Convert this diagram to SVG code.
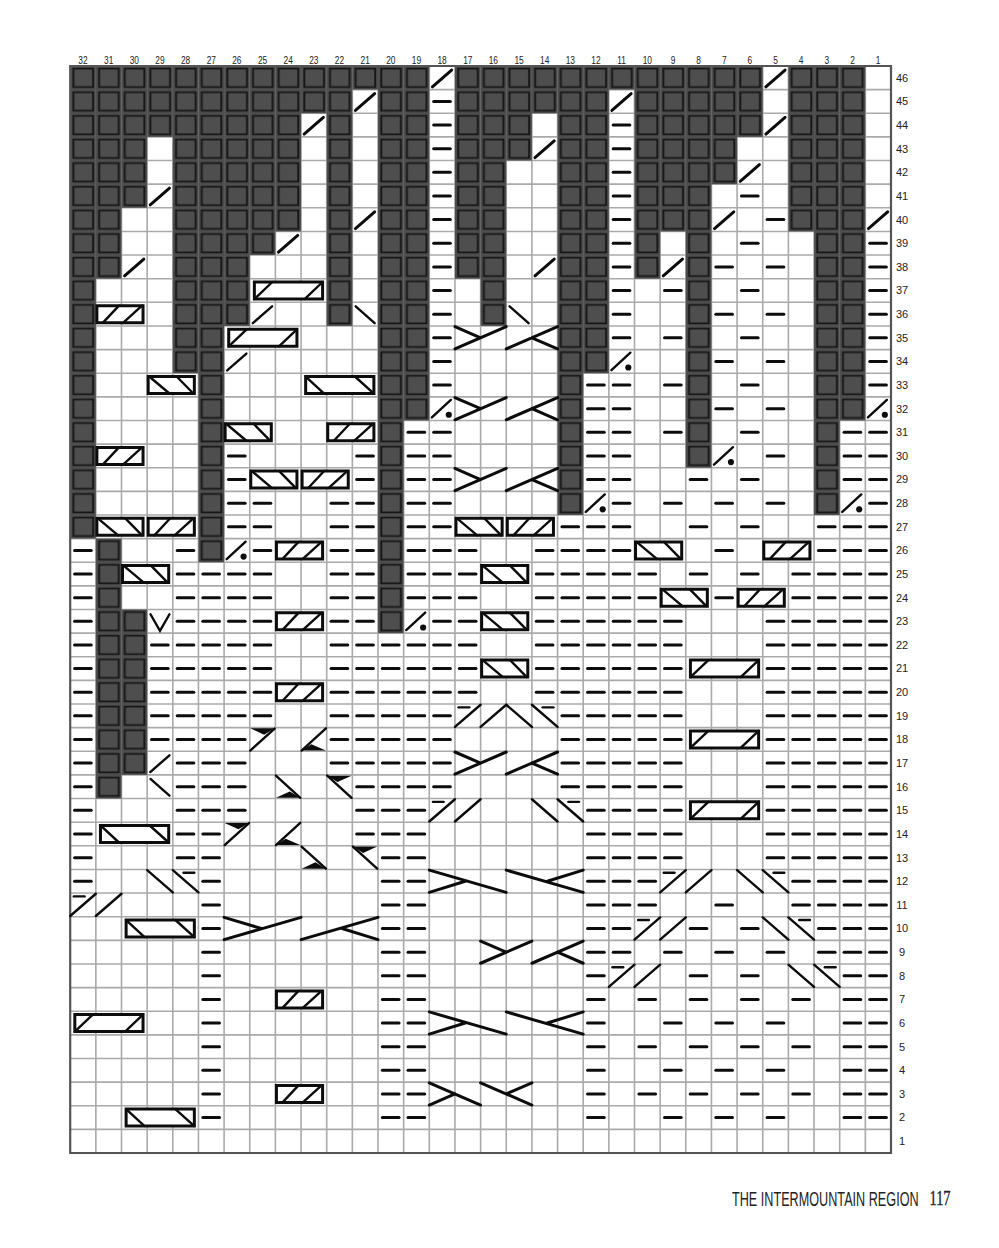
<svg xmlns="http://www.w3.org/2000/svg" width="999" height="1248" viewBox="0 0 999 1248">
<style>
text{font-family:"Liberation Sans",Arial,sans-serif;fill:#222}
.n{font-size:11px;text-anchor:middle}
defs>g path{fill:none;stroke:#0c0c0c;stroke-width:3;stroke-linecap:round;vector-effect:non-scaling-stroke}
defs>g path.t{stroke-width:2.4}
defs>g rect{fill:#fff;stroke:#0c0c0c;stroke-width:3;vector-effect:non-scaling-stroke}
defs>g polygon,defs>g ellipse{fill:#0c0c0c}
#grid path{fill:none;vector-effect:non-scaling-stroke}
</style>
<defs>
<pattern id="darkcell" patternUnits="userSpaceOnUse" width="1" height="1">
<rect width="1" height="1" fill="#4e4e4e"/>
<path fill="#161616" fill-rule="evenodd" d="M.09 .07H.93V.93H.09ZM.165 .15V.85H.855V.15Z"/>
</pattern>
<g id="d"><path d="M.17 .5H.82"/></g>
<g id="d2"><use href="#d"/><use href="#d" x="1"/></g>
<g id="d3"><use href="#d2"/><use href="#d" x="2"/></g>
<g id="d5"><use href="#d3"/><use href="#d2" x="3"/></g>
<g id="s"><path d="M.12 .88L.87 .17"/></g>
<g id="st"><path class="t" d="M.12 .88L.87 .17"/></g>
<g id="b"><path class="t" d="M.13 .17L.87 .88"/></g>
<g id="sd"><path class="t" d="M.1 .87L.84 .13"/><ellipse cx=".76" cy=".76" rx=".12" ry=".13"/></g>
<g id="sf"><path class="t" d="M0 .97L1 .03"/></g>
<g id="bf"><path class="t" d="M0 .03L1 .97"/></g>
<g id="sq"><path class="t" d="M0 .97L1 .03"/><path class="t" d="M.14 .14H.56"/></g>
<g id="bq"><path class="t" d="M0 .03L1 .97"/><path class="t" d="M.42 .14H.84"/></g>
<g id="f7"><path class="t" d="M.97 .04L.02 .97"/><polygon points=".02,.03 .97,.03 .56,.3"/></g>
<g id="fl"><path class="t" d="M.97 .03L.02 .97"/><polygon points=".02,.97 .97,.97 .4,.7"/></g>
<g id="fb"><path class="t" d="M.02 .03L.97 .97"/><polygon points=".02,.97 .97,.97 .56,.7"/></g>
<g id="ft"><path class="t" d="M.02 .03L.97 .97"/><polygon points=".02,.03 .97,.03 .42,.3"/></g>
<g id="v"><path class="t" d="M.13 .2L.5 .9L.87 .2"/></g>
<g id="zz"><rect x=".04" y=".14" width="1.8" height=".72"/><path class="t" d="M.28 .86L.9 .14M1.07 .86L1.8 .14"/></g>
<g id="nn"><rect x=".04" y=".14" width="1.8" height=".72"/><path class="t" d="M.08 .14L.87 .86M1.15 .14L1.8 .86"/></g>
<g id="zw"><rect x=".18" y=".14" width="2.66" height=".72"/><path class="t" d="M.18 .86L.88 .14M2.14 .86L2.84 .14"/></g>
<g id="nw"><rect x=".18" y=".14" width="2.66" height=".72"/><path class="t" d="M.18 .14L.9 .86M2.1 .14L2.84 .86"/></g>
<g id="cl"><path d="M0 .97L2 .03M0 .03L1 .5"/></g>
<g id="cr"><path d="M0 .97L2 .03M1 .5L2 .97"/></g>
<g id="ol"><path d="M0 .03L2 .97M0 .97L1 .5"/></g>
<g id="or"><path d="M0 .03L2 .97M1 .5L2 .03"/></g>
<g id="wl"><path d="M0 .97L3 .03M0 .03L1.45 .5"/></g>
<g id="wr"><path d="M0 .97L3 .03M1.6 .5L3 .97"/></g>
<g id="xl"><path d="M0 .03L3 .97M0 .97L1.4 .5"/></g>
<g id="xr"><path d="M0 .03L3 .97M1.6 .5L3 .03"/></g>
</defs>
<rect width="999" height="1248" fill="#fff"/>
<g transform="translate(891,1153) scale(25.65,23.63)">
<g id="grid">
<path stroke="#aaa" stroke-width="1.6" d="M-31-46V0M-30-46V0M-29-46V0M-28-46V0M-27-46V0M-26-46V0M-25-46V0M-24-46V0M-23-46V0M-22-46V0M-21-46V0M-20-46V0M-19-46V0M-18-46V0M-17-46V0M-16-46V0M-15-46V0M-14-46V0M-13-46V0M-12-46V0M-11-46V0M-10-46V0M-9-46V0M-8-46V0M-7-46V0M-6-46V0M-5-46V0M-4-46V0M-3-46V0M-2-46V0M-1-46V0M-32-45H0M-32-44H0M-32-43H0M-32-42H0M-32-41H0M-32-40H0M-32-39H0M-32-38H0M-32-37H0M-32-36H0M-32-35H0M-32-34H0M-32-33H0M-32-32H0M-32-31H0M-32-30H0M-32-29H0M-32-28H0M-32-27H0M-32-26H0M-32-25H0M-32-24H0M-32-23H0M-32-22H0M-32-21H0M-32-20H0M-32-19H0M-32-18H0M-32-17H0M-32-16H0M-32-15H0M-32-14H0M-32-13H0M-32-12H0M-32-11H0M-32-10H0M-32-9H0M-32-8H0M-32-7H0M-32-6H0M-32-5H0M-32-4H0M-32-3H0M-32-2H0M-32-1H0"/>
</g>
<g id="dark" fill="url(#darkcell)">
<rect x="-32" y="-46" width="1" height="20"/>
<rect x="-31" y="-46" width="1" height="9"/><rect x="-31" y="-26" width="1" height="11"/>
<rect x="-30" y="-46" width="1" height="6"/><rect x="-30" y="-23" width="1" height="7"/>
<rect x="-29" y="-46" width="1" height="3"/>
<rect x="-28" y="-46" width="1" height="13"/>
<rect x="-27" y="-46" width="1" height="21"/>
<rect x="-26" y="-46" width="1" height="11"/>
<rect x="-25" y="-46" width="1" height="8"/>
<rect x="-24" y="-46" width="1" height="7"/>
<rect x="-23" y="-46" width="1" height="2"/>
<rect x="-22" y="-46" width="1" height="11"/>
<rect x="-21" y="-46" width="1" height="1"/>
<rect x="-20" y="-46" width="1" height="24"/>
<rect x="-19" y="-46" width="1" height="15"/>
<rect x="-17" y="-46" width="1" height="9"/>
<rect x="-16" y="-46" width="1" height="11"/>
<rect x="-15" y="-46" width="1" height="4"/>
<rect x="-14" y="-46" width="1" height="2"/>
<rect x="-13" y="-46" width="1" height="19"/>
<rect x="-12" y="-46" width="1" height="13"/>
<rect x="-11" y="-46" width="1" height="1"/>
<rect x="-10" y="-46" width="1" height="9"/>
<rect x="-9" y="-46" width="1" height="7"/>
<rect x="-8" y="-46" width="1" height="17"/>
<rect x="-7" y="-46" width="1" height="5"/>
<rect x="-6" y="-46" width="1" height="3"/>
<rect x="-4" y="-46" width="1" height="7"/>
<rect x="-3" y="-46" width="1" height="19"/>
<rect x="-2" y="-46" width="1" height="15"/>
</g>
<g id="frame"><path fill="none" stroke="#555" stroke-width="2.2" vector-effect="non-scaling-stroke" d="M-32-46H0V0H-32Z"/></g>
<g id="marks">
<g id="r46" transform="translate(0,-46)"><use href="#s" x="-18"/><use href="#s" x="-5"/></g>
<g id="r45" transform="translate(0,-45)"><use href="#s" x="-21"/><use href="#d" x="-18"/><use href="#s" x="-11"/></g>
<g id="r44" transform="translate(0,-44)"><use href="#s" x="-23"/><use href="#d" x="-18"/><use href="#d" x="-11"/><use href="#s" x="-5"/></g>
<g id="r43" transform="translate(0,-43)"><use href="#d" x="-18"/><use href="#s" x="-14"/><use href="#d" x="-11"/></g>
<g id="r42" transform="translate(0,-42)"><use href="#d" x="-18"/><use href="#d" x="-11"/><use href="#s" x="-6"/></g>
<g id="r41" transform="translate(0,-41)"><use href="#s" x="-29"/><use href="#d" x="-18"/><use href="#d" x="-11"/><use href="#d" x="-6"/></g>
<g id="r40" transform="translate(0,-40)"><use href="#s" x="-21"/><use href="#d" x="-18"/><use href="#d" x="-11"/><use href="#s" x="-7"/><use href="#d" x="-5"/><use href="#s" x="-1"/></g>
<g id="r39" transform="translate(0,-39)"><use href="#s" x="-24"/><use href="#d" x="-18"/><use href="#d" x="-11"/><use href="#d" x="-6"/><use href="#d" x="-1"/></g>
<g id="r38" transform="translate(0,-38)"><use href="#s" x="-30"/><use href="#d" x="-18"/><use href="#s" x="-14"/><use href="#d" x="-11"/><use href="#s" x="-9"/><use href="#d" x="-7"/><use href="#d" x="-5"/><use href="#d" x="-1"/></g>
<g id="r37" transform="translate(0,-37)"><use href="#zw" x="-25"/><use href="#d" x="-18"/><use href="#d" x="-11"/><use href="#d" x="-9"/><use href="#d" x="-6"/><use href="#d" x="-1"/></g>
<g id="r36" transform="translate(0,-36)"><use href="#zz" x="-31"/><use href="#st" x="-25"/><use href="#b" x="-21"/><use href="#d" x="-18"/><use href="#b" x="-15"/><use href="#d" x="-11"/><use href="#d" x="-7"/><use href="#d" x="-5"/><use href="#d" x="-1"/></g>
<g id="r35" transform="translate(0,-35)"><use href="#zw" x="-26"/><use href="#d" x="-18"/><use href="#cl" x="-17"/><use href="#cr" x="-15"/><use href="#d" x="-11"/><use href="#d" x="-9"/><use href="#d" x="-6"/><use href="#d" x="-1"/></g>
<g id="r34" transform="translate(0,-34)"><use href="#st" x="-26"/><use href="#d" x="-18"/><use href="#sd" x="-11"/><use href="#d" x="-7"/><use href="#d" x="-5"/><use href="#d" x="-1"/></g>
<g id="r33" transform="translate(0,-33)"><use href="#nn" x="-29"/><use href="#nw" x="-23"/><use href="#d" x="-18"/><use href="#d2" x="-12"/><use href="#d" x="-9"/><use href="#d" x="-6"/><use href="#d" x="-1"/></g>
<g id="r32" transform="translate(0,-32)"><use href="#sd" x="-18"/><use href="#cl" x="-17"/><use href="#cr" x="-15"/><use href="#d2" x="-12"/><use href="#d" x="-7"/><use href="#d" x="-5"/><use href="#sd" x="-1"/></g>
<g id="r31" transform="translate(0,-31)"><use href="#nn" x="-26"/><use href="#zz" x="-22"/><use href="#d2" x="-19"/><use href="#d2" x="-12"/><use href="#d" x="-9"/><use href="#d" x="-6"/><use href="#d2" x="-2"/></g>
<g id="r30" transform="translate(0,-30)"><use href="#zz" x="-31"/><use href="#d" x="-26"/><use href="#d" x="-21"/><use href="#d2" x="-19"/><use href="#d2" x="-12"/><use href="#sd" x="-7"/><use href="#d" x="-5"/><use href="#d2" x="-2"/></g>
<g id="r29" transform="translate(0,-29)"><use href="#d" x="-26"/><use href="#nn" x="-25"/><use href="#zz" x="-23"/><use href="#d" x="-21"/><use href="#d2" x="-19"/><use href="#cl" x="-17"/><use href="#cr" x="-15"/><use href="#d2" x="-12"/><use href="#d" x="-8"/><use href="#d" x="-6"/><use href="#d2" x="-2"/></g>
<g id="r28" transform="translate(0,-28)"><use href="#d2" x="-26"/><use href="#d2" x="-22"/><use href="#d2" x="-19"/><use href="#sd" x="-12"/><use href="#d" x="-11"/><use href="#d" x="-9"/><use href="#d" x="-7"/><use href="#d" x="-5"/><use href="#sd" x="-2"/><use href="#d" x="-1"/></g>
<g id="r27" transform="translate(0,-27)"><use href="#nn" x="-31"/><use href="#zz" x="-29"/><use href="#d2" x="-26"/><use href="#d2" x="-22"/><use href="#d2" x="-19"/><use href="#nn" x="-17"/><use href="#zz" x="-15"/><use href="#d3" x="-13"/><use href="#d" x="-8"/><use href="#d" x="-6"/><use href="#d3" x="-3"/></g>
<g id="r26" transform="translate(0,-26)"><use href="#d" x="-32"/><use href="#d" x="-28"/><use href="#sd" x="-26"/><use href="#d" x="-25"/><use href="#zz" x="-24"/><use href="#d2" x="-22"/><use href="#d3" x="-19"/><use href="#d2" x="-14"/><use href="#d2" x="-12"/><use href="#nn" x="-10"/><use href="#d" x="-7"/><use href="#zz" x="-5"/><use href="#d3" x="-3"/></g>
<g id="r25" transform="translate(0,-25)"><use href="#d" x="-32"/><use href="#nn" x="-30"/><use href="#d2" x="-28"/><use href="#d2" x="-26"/><use href="#d2" x="-22"/><use href="#d3" x="-19"/><use href="#nn" x="-16"/><use href="#d5" x="-14"/><use href="#d" x="-8"/><use href="#d" x="-6"/><use href="#d2" x="-4"/><use href="#d2" x="-2"/></g>
<g id="r24" transform="translate(0,-24)"><use href="#d" x="-32"/><use href="#d2" x="-28"/><use href="#d2" x="-26"/><use href="#d2" x="-22"/><use href="#d3" x="-19"/><use href="#d5" x="-14"/><use href="#nn" x="-9"/><use href="#d" x="-7"/><use href="#zz" x="-6"/><use href="#d2" x="-4"/><use href="#d2" x="-2"/></g>
<g id="r23" transform="translate(0,-23)"><use href="#d" x="-32"/><use href="#v" x="-29"/><use href="#d2" x="-28"/><use href="#d2" x="-26"/><use href="#zz" x="-24"/><use href="#d2" x="-22"/><use href="#sd" x="-19"/><use href="#d2" x="-18"/><use href="#nn" x="-16"/><use href="#d5" x="-14"/><use href="#d" x="-9"/><use href="#d5" x="-5"/></g>
<g id="r22" transform="translate(0,-22)"><use href="#d" x="-32"/><use href="#d5" x="-29"/><use href="#d5" x="-22"/><use href="#d" x="-17"/><use href="#d5" x="-14"/><use href="#d" x="-9"/><use href="#d5" x="-5"/></g>
<g id="r21" transform="translate(0,-21)"><use href="#d" x="-32"/><use href="#d5" x="-29"/><use href="#d5" x="-22"/><use href="#d" x="-17"/><use href="#nn" x="-16"/><use href="#d5" x="-14"/><use href="#d" x="-9"/><use href="#zw" x="-8"/><use href="#d5" x="-5"/></g>
<g id="r20" transform="translate(0,-20)"><use href="#d" x="-32"/><use href="#d5" x="-29"/><use href="#zz" x="-24"/><use href="#d5" x="-22"/><use href="#d" x="-17"/><use href="#d5" x="-14"/><use href="#d" x="-9"/><use href="#d5" x="-5"/></g>
<g id="r19" transform="translate(0,-19)"><use href="#d" x="-32"/><use href="#d5" x="-29"/><use href="#d5" x="-22"/><use href="#sq" x="-17"/><use href="#sf" x="-16"/><use href="#bf" x="-15"/><use href="#bq" x="-14"/><use href="#d5" x="-13"/><use href="#d5" x="-5"/></g>
<g id="r18" transform="translate(0,-18)"><use href="#d" x="-32"/><use href="#d2" x="-29"/><use href="#d2" x="-27"/><use href="#f7" x="-25"/><use href="#fl" x="-23"/><use href="#d5" x="-22"/><use href="#d5" x="-13"/><use href="#zw" x="-8"/><use href="#d5" x="-5"/></g>
<g id="r17" transform="translate(0,-17)"><use href="#d" x="-32"/><use href="#st" x="-29"/><use href="#d3" x="-28"/><use href="#d5" x="-22"/><use href="#cl" x="-17"/><use href="#cr" x="-15"/><use href="#d5" x="-13"/><use href="#d5" x="-5"/></g>
<g id="r16" transform="translate(0,-16)"><use href="#d" x="-32"/><use href="#b" x="-29"/><use href="#d3" x="-28"/><use href="#fb" x="-24"/><use href="#ft" x="-22"/><use href="#d2" x="-21"/><use href="#d2" x="-19"/><use href="#d5" x="-13"/><use href="#d5" x="-5"/></g>
<g id="r15" transform="translate(0,-15)"><use href="#d" x="-32"/><use href="#d3" x="-28"/><use href="#d3" x="-21"/><use href="#sq" x="-18"/><use href="#sf" x="-17"/><use href="#bf" x="-14"/><use href="#bq" x="-13"/><use href="#d2" x="-12"/><use href="#d2" x="-10"/><use href="#zw" x="-8"/><use href="#d5" x="-5"/></g>
<g id="r14" transform="translate(0,-14)"><use href="#d" x="-32"/><use href="#nw" x="-31"/><use href="#d2" x="-28"/><use href="#f7" x="-26"/><use href="#fl" x="-24"/><use href="#d3" x="-21"/><use href="#d2" x="-12"/><use href="#d2" x="-10"/><use href="#d5" x="-5"/></g>
<g id="r13" transform="translate(0,-13)"><use href="#d" x="-32"/><use href="#d2" x="-28"/><use href="#fb" x="-23"/><use href="#ft" x="-21"/><use href="#d2" x="-20"/><use href="#d2" x="-12"/><use href="#d2" x="-10"/><use href="#d5" x="-5"/></g>
<g id="r12" transform="translate(0,-12)"><use href="#d" x="-32"/><use href="#bf" x="-29"/><use href="#bq" x="-28"/><use href="#d" x="-27"/><use href="#d2" x="-20"/><use href="#xl" x="-18"/><use href="#xr" x="-15"/><use href="#d3" x="-12"/><use href="#sq" x="-9"/><use href="#sf" x="-8"/><use href="#bf" x="-6"/><use href="#bq" x="-5"/><use href="#d2" x="-4"/><use href="#d2" x="-2"/></g>
<g id="r11" transform="translate(0,-11)"><use href="#sq" x="-32"/><use href="#sf" x="-31"/><use href="#d" x="-27"/><use href="#d2" x="-20"/><use href="#d3" x="-12"/><use href="#d" x="-7"/><use href="#d2" x="-4"/><use href="#d2" x="-2"/></g>
<g id="r10" transform="translate(0,-10)"><use href="#nw" x="-30"/><use href="#d" x="-27"/><use href="#wl" x="-26"/><use href="#wr" x="-23"/><use href="#d2" x="-20"/><use href="#d2" x="-12"/><use href="#sq" x="-10"/><use href="#sf" x="-9"/><use href="#d" x="-8"/><use href="#d" x="-6"/><use href="#bf" x="-5"/><use href="#bq" x="-4"/><use href="#d3" x="-3"/></g>
<g id="r9" transform="translate(0,-9)"><use href="#d" x="-27"/><use href="#d2" x="-20"/><use href="#cl" x="-16"/><use href="#cr" x="-14"/><use href="#d2" x="-12"/><use href="#d" x="-9"/><use href="#d" x="-7"/><use href="#d" x="-5"/><use href="#d3" x="-3"/></g>
<g id="r8" transform="translate(0,-8)"><use href="#d" x="-27"/><use href="#d2" x="-20"/><use href="#d" x="-12"/><use href="#sq" x="-11"/><use href="#sf" x="-10"/><use href="#d" x="-8"/><use href="#d" x="-6"/><use href="#bf" x="-4"/><use href="#bq" x="-3"/><use href="#d2" x="-2"/></g>
<g id="r7" transform="translate(0,-7)"><use href="#d" x="-27"/><use href="#zz" x="-24"/><use href="#d2" x="-20"/><use href="#d" x="-12"/><use href="#d" x="-10"/><use href="#d" x="-8"/><use href="#d" x="-6"/><use href="#d" x="-4"/><use href="#d2" x="-2"/></g>
<g id="r6" transform="translate(0,-6)"><use href="#zw" x="-32"/><use href="#d" x="-27"/><use href="#d2" x="-20"/><use href="#xl" x="-18"/><use href="#xr" x="-15"/><use href="#d" x="-12"/><use href="#d" x="-9"/><use href="#d" x="-7"/><use href="#d" x="-5"/><use href="#d2" x="-2"/></g>
<g id="r5" transform="translate(0,-5)"><use href="#d" x="-27"/><use href="#d2" x="-20"/><use href="#d" x="-12"/><use href="#d" x="-10"/><use href="#d" x="-8"/><use href="#d" x="-6"/><use href="#d" x="-4"/><use href="#d2" x="-2"/></g>
<g id="r4" transform="translate(0,-4)"><use href="#d" x="-27"/><use href="#d2" x="-20"/><use href="#d" x="-12"/><use href="#d" x="-9"/><use href="#d" x="-7"/><use href="#d" x="-5"/><use href="#d2" x="-2"/></g>
<g id="r3" transform="translate(0,-3)"><use href="#d" x="-27"/><use href="#zz" x="-24"/><use href="#d2" x="-20"/><use href="#ol" x="-18"/><use href="#or" x="-16"/><use href="#d" x="-12"/><use href="#d" x="-10"/><use href="#d" x="-8"/><use href="#d" x="-6"/><use href="#d" x="-4"/><use href="#d2" x="-2"/></g>
<g id="r2" transform="translate(0,-2)"><use href="#nw" x="-30"/><use href="#d" x="-27"/><use href="#d2" x="-20"/><use href="#d" x="-12"/><use href="#d" x="-9"/><use href="#d" x="-7"/><use href="#d" x="-5"/><use href="#d2" x="-2"/></g>
</g>
</g>
<g id="col-labels" transform="scale(.76,1)">
<text class="n" x="109.2" y="64">32</text><text class="n" x="143" y="64">31</text><text class="n" x="176.7" y="64">30</text><text class="n" x="210.5" y="64">29</text><text class="n" x="244.2" y="64">28</text><text class="n" x="278" y="64">27</text><text class="n" x="311.7" y="64">26</text><text class="n" x="345.5" y="64">25</text><text class="n" x="379.2" y="64">24</text><text class="n" x="413" y="64">23</text><text class="n" x="446.7" y="64">22</text><text class="n" x="480.5" y="64">21</text><text class="n" x="514.2" y="64">20</text><text class="n" x="548" y="64">19</text><text class="n" x="581.7" y="64">18</text><text class="n" x="615.5" y="64">17</text><text class="n" x="649.2" y="64">16</text><text class="n" x="683" y="64">15</text><text class="n" x="716.7" y="64">14</text><text class="n" x="750.5" y="64">13</text><text class="n" x="784.2" y="64">12</text><text class="n" x="818" y="64">11</text><text class="n" x="851.7" y="64">10</text><text class="n" x="885.5" y="64">9</text><text class="n" x="919.2" y="64">8</text><text class="n" x="953" y="64">7</text><text class="n" x="986.7" y="64">6</text><text class="n" x="1020.5" y="64">5</text><text class="n" x="1054.2" y="64">4</text><text class="n" x="1088" y="64">3</text><text class="n" x="1121.7" y="64">2</text><text class="n" x="1155.5" y="64">1</text>
</g>
<g id="row-labels">
<text class="n" x="902" y="81.8">46</text><text class="n" x="902" y="105.4">45</text><text class="n" x="902" y="129">44</text><text class="n" x="902" y="152.6">43</text><text class="n" x="902" y="176.3">42</text><text class="n" x="902" y="199.9">41</text><text class="n" x="902" y="223.5">40</text><text class="n" x="902" y="247.1">39</text><text class="n" x="902" y="270.8">38</text><text class="n" x="902" y="294.4">37</text><text class="n" x="902" y="318">36</text><text class="n" x="902" y="341.7">35</text><text class="n" x="902" y="365.3">34</text><text class="n" x="902" y="388.9">33</text><text class="n" x="902" y="412.5">32</text><text class="n" x="902" y="436.2">31</text><text class="n" x="902" y="459.8">30</text><text class="n" x="902" y="483.4">29</text><text class="n" x="902" y="507.1">28</text><text class="n" x="902" y="530.7">27</text><text class="n" x="902" y="554.3">26</text><text class="n" x="902" y="577.9">25</text><text class="n" x="902" y="601.6">24</text><text class="n" x="902" y="625.2">23</text><text class="n" x="902" y="648.8">22</text><text class="n" x="902" y="672.4">21</text><text class="n" x="902" y="696.1">20</text><text class="n" x="902" y="719.7">19</text><text class="n" x="902" y="743.3">18</text><text class="n" x="902" y="767">17</text><text class="n" x="902" y="790.6">16</text><text class="n" x="902" y="814.2">15</text><text class="n" x="902" y="837.8">14</text><text class="n" x="902" y="861.5">13</text><text class="n" x="902" y="885.1">12</text><text class="n" x="902" y="908.7">11</text><text class="n" x="902" y="932.3">10</text><text class="n" x="902" y="956">9</text><text class="n" x="902" y="979.6">8</text><text class="n" x="902" y="1003.2">7</text><text class="n" x="902" y="1026.9">6</text><text class="n" x="902" y="1050.5">5</text><text class="n" x="902" y="1074.1">4</text><text class="n" x="902" y="1097.7">3</text><text class="n" x="902" y="1121.4">2</text><text class="n" x="902" y="1145">1</text>
</g>
<g id="footer">
<text transform="translate(732,1206) scale(.649,1)" font-size="19.5">THE INTERMOUNTAIN REGION</text>
<text transform="translate(929.5,1205) scale(.72,1)" style="font-family:'Liberation Serif',serif" font-size="20" stroke="#222" stroke-width=".35">117</text>
</g>
</svg>
